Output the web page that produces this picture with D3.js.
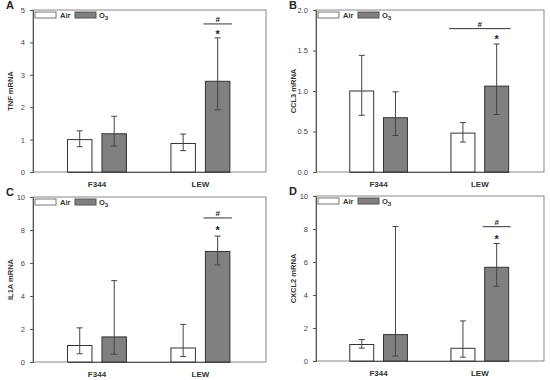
<!DOCTYPE html>
<html><head><meta charset="utf-8">
<script src="https://cdn.jsdelivr.net/npm/d3@7"></script>
<style>body{margin:0;background:#fff}svg{display:block}text{font-family:Arial,"Liberation Sans",sans-serif}</style>
</head><body><svg id="c" width="550" height="380"></svg>
<script>
const categories = ["F344", "LEW"];
const series = ["Air", "O3"];
const panelLetters = ["A", "B", "C", "D"];
const yLabels = ["TNF mRNA", "CCL3 mRNA", "IL1A mRNA", "CXCL2 mRNA"];
const yMax = [5, 2, 10, 10];
const yTicks = [[0,1,2,3,4,5], [0,0.5,1.0,1.5,2.0], [0,2,4,6,8,10], [0,2,4,6,8,10]];
const yTickFmt = ["d", ".1f", "d", "d"];
// means [F344 Air, F344 O3, LEW Air, LEW O3]
const meanA = [1.0, 1.18, 0.88, 2.8];
const lowA  = [0.78, 0.80, 0.66, 1.92];
const highA = [1.27, 1.72, 1.17, 4.14];
const meanB = [1.0, 0.67, 0.48, 1.06];
const lowB  = [0.70, 0.45, 0.37, 0.71];
const highB = [1.44, 0.99, 0.61, 1.58];
const meanC = [1.0, 1.52, 0.85, 6.7];
const lowC  = [0.50, 0.47, 0.33, 5.88];
const highC = [2.07, 4.93, 2.28, 7.63];
const meanD = [1.0, 1.6, 0.77, 5.68];
const lowD  = [0.78, 0.30, 0.23, 4.53];
const highD = [1.30, 8.15, 2.43, 7.12];
// significance: hash line value, star value
const hashVal = [4.57, 1.77, 8.73, 8.14];
const starVal = [4.3, 1.66, 8.05, 7.45];
const hashSpan = [["O3"], ["Air","O3"], ["O3"], ["O3"]];

const means = [meanA, meanB, meanC, meanD];
const lows = [lowA, lowB, lowC, lowD];
const highs = [highA, highB, highC, highD];

const svg = d3.select("#c");
const panels = [
  {x0:33, x1:266, y0:10, y1:172},
  {x0:316, x1:544, y0:10, y1:172},
  {x0:33, x1:266, y0:197, y1:362},
  {x0:316, x1:544, y0:196, y1:361}
];
const axisCol = "#555";
const barStroke = "#333";
const o3Fill = "#808080";

panels.forEach((p, i) => {
  const g = svg.append("g");
  const y = d3.scaleLinear().domain([0, yMax[i]]).range([p.y1, p.y0]);
  const w = p.x1 - p.x0;
  const x = d3.scaleBand().domain(categories).range([p.x0 + w*0.148, p.x1 - w*0.155]).paddingInner(0.43).paddingOuter(0);
  const xs = d3.scaleBand().domain(series).range([0, x.bandwidth()]).paddingInner(0.29);

  // frame
  g.append("rect").attr("x", p.x0).attr("y", p.y0).attr("width", w).attr("height", p.y1 - p.y0)
    .attr("fill", "none").attr("stroke", "#888").attr("stroke-width", 1);

  // y axis
  const ya = d3.axisLeft(y).tickValues(yTicks[i]).tickFormat(d3.format(yTickFmt[i])).tickSize(3).tickPadding(5);
  const yg = g.append("g").attr("transform", `translate(${p.x0},0)`).call(ya);
  yg.select(".domain").attr("stroke", axisCol);
  yg.selectAll(".tick line").attr("stroke", axisCol);
  yg.selectAll("text").attr("font-size", 7.5).attr("fill", "#444");

  // x axis
  const xa = d3.axisBottom(x).tickSize(0).tickPadding(9);
  const xg = g.append("g").attr("transform", `translate(0,${p.y1})`).call(xa);
  xg.select(".domain").attr("stroke", axisCol);
  xg.selectAll("text").attr("font-size", 8).attr("font-weight", "bold").attr("fill", "#333");

  // y label
  g.append("text").attr("transform", `translate(${p.x0 - 20},${(p.y0 + p.y1)/2}) rotate(-90)`)
    .attr("text-anchor", "middle").attr("font-size", 7.5).attr("font-weight", "bold").attr("fill", "#333")
    .text(yLabels[i]);

  // panel letter
  g.append("text").attr("x", p.x0 - 27).attr("y", p.y0 - 1).attr("font-size", 11).attr("font-weight", "bold")
    .attr("fill", "#222").text(panelLetters[i]);

  // bars
  const rows = [];
  categories.forEach((c, ci) => series.forEach((s, si) => {
    const k = ci*2 + si;
    rows.push({c, s, m: means[i][k], lo: lows[i][k], hi: highs[i][k]});
  }));
  const bx = d => x(d.c) + xs(d.s);
  g.selectAll(".bar").data(rows).join("rect")
    .attr("x", bx).attr("y", d => y(d.m)).attr("width", xs.bandwidth()).attr("height", d => y(0) - y(d.m))
    .attr("fill", d => d.s === "Air" ? "#fff" : o3Fill).attr("stroke", barStroke).attr("stroke-width", 1);
  // error bars
  const eg = g.selectAll(".err").data(rows).join("g").attr("stroke", "#444").attr("stroke-width", 1);
  eg.append("line").attr("x1", d => bx(d) + xs.bandwidth()/2).attr("x2", d => bx(d) + xs.bandwidth()/2)
    .attr("y1", d => y(d.lo)).attr("y2", d => y(d.hi));
  eg.append("line").attr("x1", d => bx(d) + xs.bandwidth()/2 - 3).attr("x2", d => bx(d) + xs.bandwidth()/2 + 3)
    .attr("y1", d => y(d.lo)).attr("y2", d => y(d.lo));
  eg.append("line").attr("x1", d => bx(d) + xs.bandwidth()/2 - 3).attr("x2", d => bx(d) + xs.bandwidth()/2 + 3)
    .attr("y1", d => y(d.hi)).attr("y2", d => y(d.hi));

  // significance
  const span = hashSpan[i];
  const hx0 = x("LEW") + xs(span[0]) - 2;
  const hx1 = x("LEW") + xs(span[span.length-1]) + xs.bandwidth() + 2;
  g.append("line").attr("x1", hx0).attr("x2", hx1).attr("y1", y(hashVal[i])).attr("y2", y(hashVal[i]))
    .attr("stroke", "#333").attr("stroke-width", 1);
  g.append("text").attr("x", (hx0 + hx1)/2).attr("y", y(hashVal[i]) - 2).attr("text-anchor", "middle")
    .attr("font-size", 8).attr("font-weight", "bold").attr("fill", "#222").text("#");
  const sx = x("LEW") + xs("O3") + xs.bandwidth()/2;
  g.append("text").attr("x", sx).attr("y", y(starVal[i]) + 5).attr("text-anchor", "middle")
    .attr("font-size", 11).attr("font-weight", "bold").attr("fill", "#222").text("*");

  // legend
  const lg = g.append("g").attr("transform", `translate(${p.x0 + 2},${p.y0 + 2})`);
  lg.append("rect").attr("x", 0).attr("y", 0).attr("width", 21).attr("height", 6).attr("fill", "#fff").attr("stroke", "#777");
  lg.append("text").attr("x", 25).attr("y", 6).attr("font-size", 7.5).attr("font-weight", "bold").attr("fill", "#333").text("Air");
  lg.append("rect").attr("x", 40).attr("y", 0).attr("width", 21).attr("height", 6).attr("fill", o3Fill).attr("stroke", "#555");
  const t = lg.append("text").attr("x", 64).attr("y", 6).attr("font-size", 7.5).attr("font-weight", "bold").attr("fill", "#333");
  t.append("tspan").text("O");
  t.append("tspan").attr("dy", 2).attr("font-size", 6).text("3");
});
</script></body></html>
